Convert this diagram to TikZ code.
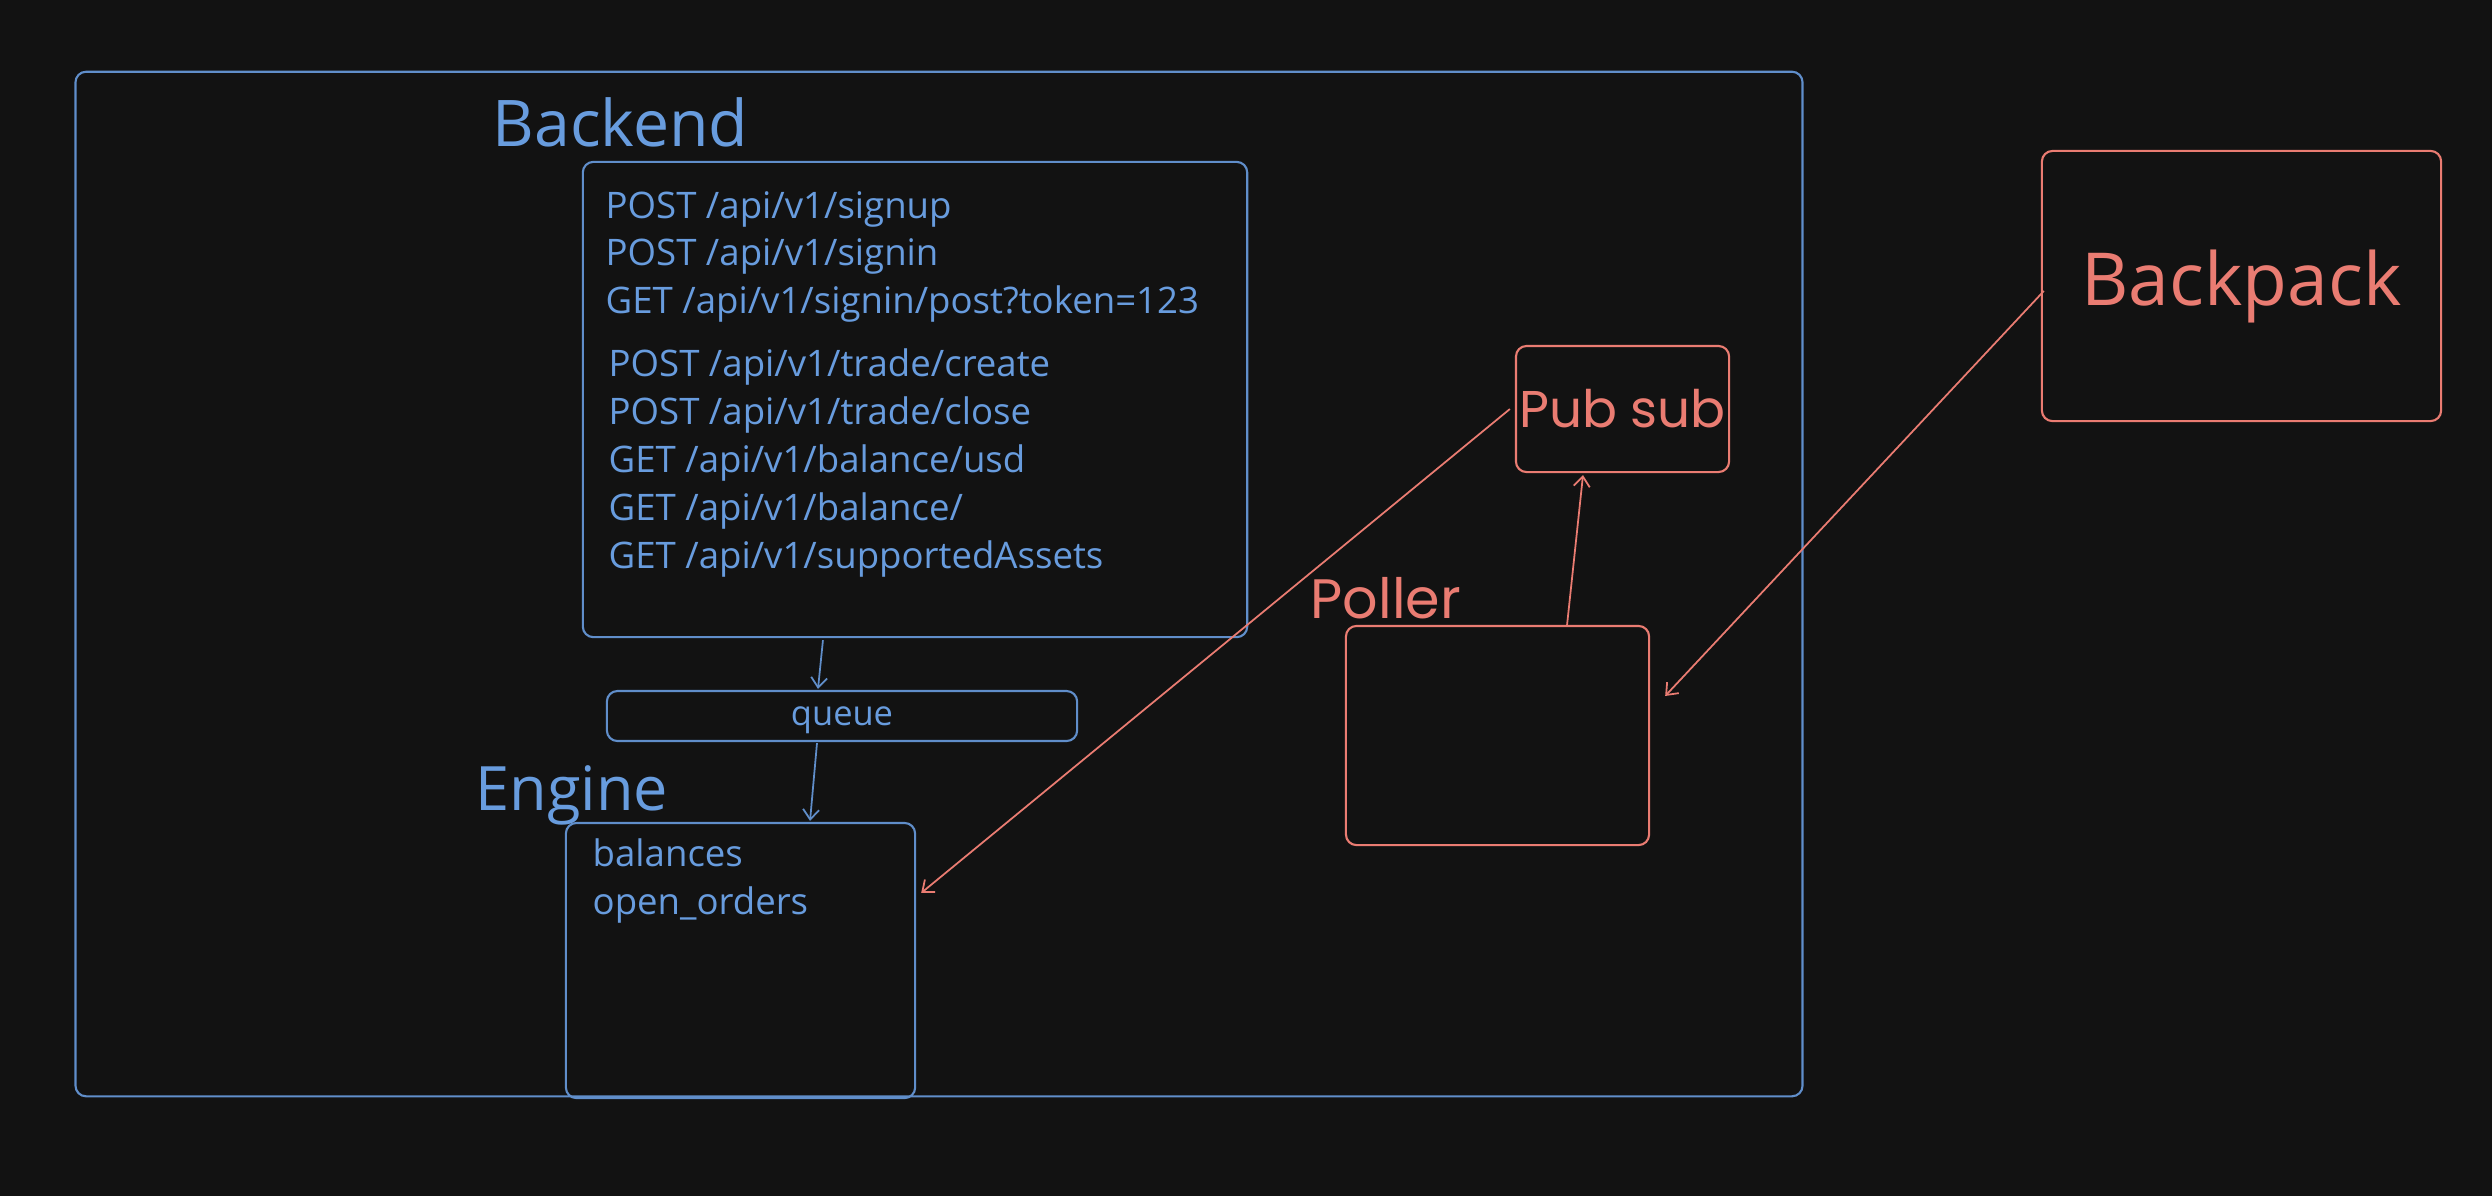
\documentclass[tikz,border=0pt]{standalone}
\usepackage{fontspec}
\setmainfont{Open Sans}
\newfontfamily\roundfont{Poppins}
\usetikzlibrary{arrows.meta,positioning}
\definecolor{night}{RGB}{18,18,18}
\definecolor{sky}{RGB}{104,156,222}
\definecolor{skyline}{RGB}{96,142,202}
\definecolor{coral}{RGB}{234,124,114}
\tikzset{
  >={Straight Barb[length=1mm,width=1.6mm]},
  box/.style={draw=#1,rounded corners=3pt,line width=0.6pt,inner sep=0pt},
  box/.default=skyline,
  title/.style={text=#1,font=\fontsize{18.3}{21}\selectfont,inner sep=0pt,anchor=base west},
  title/.default=sky,
  item/.style={text=sky,font=\fontsize{10.4}{12}\selectfont,inner sep=0pt,anchor=base west},
  link/.style={->,line width=0.5pt,draw=#1},
  link/.default=skyline,
}

\begin{document}
\begin{tikzpicture}[x=0.01cm,y=-0.01cm]
  \fill[night] (0,0) rectangle (2492,1196);
  % backend side
  \node[box,minimum width=17.26cm,minimum height=10.24cm] (outer) at (939,584) {};
  \node[title] (backend) at (492,146) {Backend};
  \node[box,minimum width=6.64cm,minimum height=4.75cm] (api) at (915,399.5) {};
  \foreach \t [count=\i from 0] in {{POST /api/v1/signup},{POST /api/v1/signin},{GET /api/v1/signin/post?token=123}}
    \node[item] (auth-\i) at (605,218+47.8*\i) {\t};
  \foreach \t [count=\i from 0] in {{POST /api/v1/trade/create},{POST /api/v1/trade/close},{GET /api/v1/balance/usd},{GET /api/v1/balance/},{GET /api/v1/supportedAssets}}
    \node[item] (route-\i) at (608,376+48*\i) {\t};
  \node[box,minimum width=4.7cm,minimum height=0.5cm,text depth=0pt,text=sky,font=\fontsize{9.8}{11}\selectfont] (queue) at (842,716) {queue};
  \node[title,font=\fontsize{17.4}{20}\selectfont] (engtitle) at (475,810) {Engine};
  \node[box,minimum width=3.49cm,minimum height=2.75cm] (engine) at (740.5,960.5) {};
  \node[item] (balances) at (592,866) {balances};
  \node[item] (orders) at (592,914) {open\_orders};
  % price side
  \node[title=coral,font=\roundfont\fontsize{15.8}{18}\selectfont] (polltitle) at (1310,618) {Poller};
  \node[box=coral,minimum width=3.03cm,minimum height=2.19cm] (poller) at (1497.5,735.5) {};
  \node[box=coral,minimum width=2.13cm,minimum height=1.26cm,text=coral,font=\roundfont\fontsize{14.7}{17}\selectfont] (pubsub) at (1622.5,409) {Pub sub};
  \node[box=coral,minimum width=3.99cm,minimum height=2.7cm,text=coral,font=\fontsize{20.8}{24}\selectfont] (backpack) at (2241.5,286) {Backpack};

  \draw[link] ([xshift=-0.92cm,yshift=-0.02cm]api.south) -- ([xshift=-0.24cm,yshift=0.01cm]queue.north);
  \draw[link] ([xshift=-0.25cm,yshift=-0.01cm]queue.south) -- ([xshift=0.695cm,yshift=0.01cm]engine.north);
  \draw[link=coral] ([xshift=-0.05cm]pubsub.west) -- ([xshift=0.05cm,yshift=0.675cm]engine.east);
  \draw[link=coral] ([xshift=0.695cm]poller.north) -- ([xshift=-0.395cm,yshift=-0.02cm]pubsub.south);
  \draw[link=coral] ([xshift=0.03cm,yshift=-0.05cm]backpack.west) -- ([xshift=0.15cm,yshift=0.395cm]poller.east);
\end{tikzpicture}
\end{document}
